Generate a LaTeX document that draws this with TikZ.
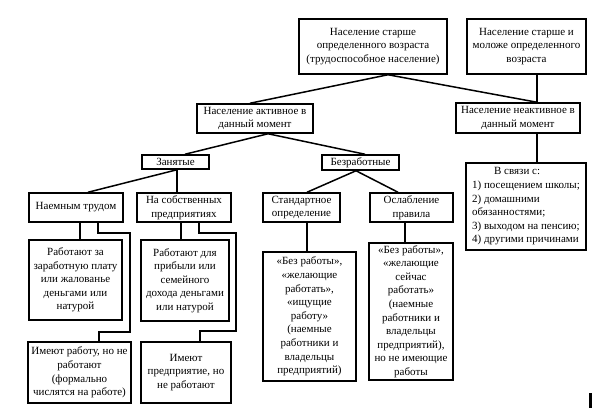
\documentclass[tikz,border=0pt]{standalone}
\usepackage{fontspec}
\setmainfont{Liberation Serif}
\usetikzlibrary{calc}
\begin{document}
\begin{tikzpicture}[x=1pt,y=-1pt,
  box/.style={draw, line width=1.5pt, align=center, inner sep=1pt,
    font=\rmfamily\fontsize{11}{13.6}\selectfont},
  conn/.style={line width=1.5pt}]
\useasboundingbox (0,0) rectangle (596,412);
% nodes
\node[box, minimum width=148pt, minimum height=55pt] (A) at (373,46.5)
  {Население старше\\определенного возраста\\(трудоспособное население)};
\node[box, minimum width=119pt, minimum height=55pt] (B) at (526.5,46.5)
  {Население старше и\\моложе определенного\\возраста};
\node[box, minimum width=116pt, minimum height=29pt] (C) at (255,118.5)
  {Население активное в\\данный момент};
\node[box, minimum width=124pt, minimum height=30pt] (D) at (518,118)
  {Население неактивное в\\данный момент};
\node[box, minimum width=120pt, minimum height=87pt, align=left] (E) at (526,206.5)
  {\hspace*{22pt}В связи с:\\1) посещением школы;\\2) домашними\\обязанностями;\\3) выходом на пенсию;\\4) другими причинами};
\node[box, minimum width=67pt, minimum height=14pt, inner sep=0pt] (Zan) at (175.5,162) {Занятые};
\node[box, minimum width=77pt, minimum height=15pt, inner sep=0pt] (Bez) at (360.5,162.5) {Безработные};
\node[box, minimum width=94pt, minimum height=29pt] (Naem) at (76,207.5) {Наемным трудом};
\node[box, minimum width=94pt, minimum height=29pt] (NaSob) at (184,207.5) {На собственных\\предприятиях};
\node[box, minimum width=77pt, minimum height=29pt] (Std) at (301.5,207.5) {Стандартное\\определение};
\node[box, minimum width=83pt, minimum height=29pt] (Osl) at (411.5,207.5) {Ослабление\\правила};
\node[box, minimum width=93pt, minimum height=80pt] (RabZa) at (75.5,280)
  {Работают за\\заработную плату\\или жалованье\\деньгами или\\натурой};
\node[box, minimum width=88pt, minimum height=81pt] (RabDl) at (185,280.5)
  {Работают для\\прибыли или\\семейного\\дохода деньгами\\или натурой};
\node[box, minimum width=103pt, minimum height=61pt] (ImR) at (79.5,372.5)
  {Имеют работу, но не\\работают\\(формально\\числятся на работе)};
\node[box, minimum width=90pt, minimum height=61pt] (ImP) at (186,372.5)
  {Имеют\\предприятие, но\\не работают};
\node[box, minimum width=93pt, minimum height=129pt] (Bez1) at (309.5,316.5)
  {«Без работы»,\\«желающие\\работать»,\\«ищущие\\работу»\\(наемные\\работники и\\владельцы\\предприятий)};
\node[box, minimum width=84pt, minimum height=137pt] (Bez2) at (411,311.5)
  {«Без работы»,\\«желающие\\сейчас\\работать»\\(наемные\\работники и\\владельцы\\предприятий),\\но не имеющие\\работы};
% connectors
\draw[conn] ([xshift=15pt]A.south) -- ([xshift=-5pt]C.north);
\draw[conn] ([xshift=15pt]A.south) -- ([xshift=19pt]D.north);
\draw[conn] ([xshift=10.5pt]B.south) -- ([xshift=19pt]D.north);
\draw[conn] ([xshift=19pt]D.south) -- ([xshift=11pt]E.north);
\draw[conn] ([xshift=13pt]C.south) -- ([xshift=9.5pt]Zan.north);
\draw[conn] ([xshift=13pt]C.south) -- ([xshift=4.5pt]Bez.north);
\draw[conn] ([xshift=1.5pt]Zan.south) -- ([xshift=12pt]Naem.north);
\draw[conn] ([xshift=1.5pt]Zan.south) -- ([xshift=-7pt]NaSob.north);
\draw[conn] ([xshift=-4.5pt]Bez.south) -- ([xshift=5.5pt]Std.north);
\draw[conn] ([xshift=-4.5pt]Bez.south) -- ([xshift=-13.5pt]Osl.north);
\draw[conn] ([xshift=5.5pt]Std.south) -- ([xshift=-2.5pt]Bez1.north);
\draw[conn] ([xshift=-6.5pt]Osl.south) -- ([xshift=-6pt]Bez2.north);
\draw[conn] ([xshift=4pt]Naem.south) -- ([xshift=4.5pt]RabZa.north);
\draw[conn] ([xshift=-3pt]NaSob.south) -- ([xshift=-4pt]RabDl.north);
\coordinate (r1) at (130,332);
\coordinate (r2) at (236,331);
\draw[conn] ([xshift=22pt]Naem.south) -- ++(0,10) -| (r1) -| ([xshift=19.5pt]ImR.north);
\draw[conn] ([xshift=15pt]NaSob.south) -- ++(0,10) -| (r2) -| ([xshift=14pt]ImP.north);
% small mark
\fill (589.3,393) rectangle (591.8,408);
\end{tikzpicture}
\end{document}
